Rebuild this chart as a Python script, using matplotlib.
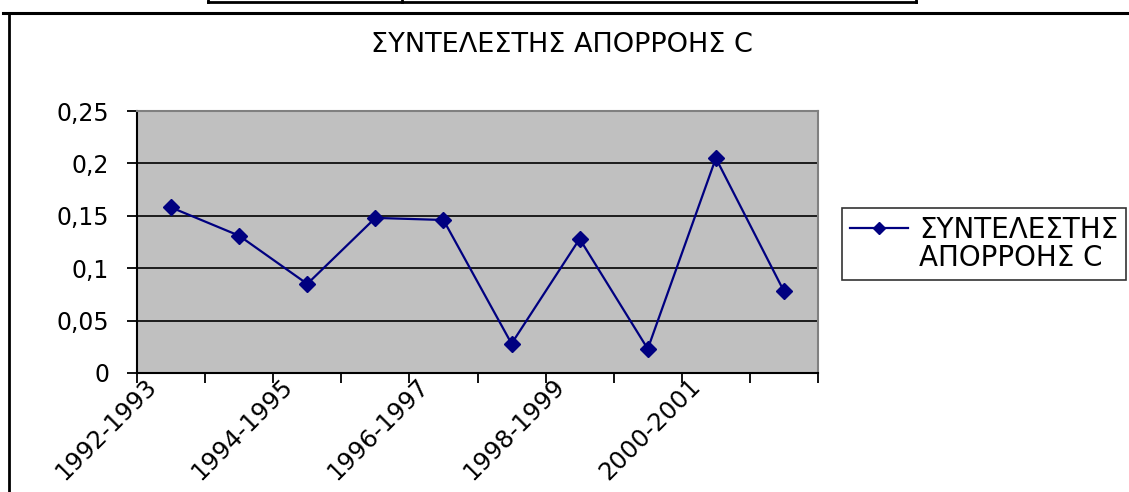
# %%
import matplotlib
matplotlib.use('Agg')
import matplotlib.pyplot as plt
from matplotlib.lines import Line2D
from matplotlib.ticker import FuncFormatter
import numpy as np

# runoff coefficient C per hydrological year
years = ['1992-1993', '1993-1994', '1994-1995', '1995-1996', '1996-1997',
         '1997-1998', '1998-1999', '1999-2000', '2000-2001', '2001-2002']
runoff_c = [0.158, 0.131, 0.085, 0.148, 0.146, 0.028, 0.128, 0.023, 0.205, 0.078]
series_name = 'ΣΥΝΤΕΛΕΣΤΗΣ ΑΠΟΡΡΟΗΣ C'
y_ticks = [0, 0.05, 0.1, 0.15, 0.2, 0.25]

W, H = 1129, 492
fig = plt.figure(figsize=(W / 100, H / 100), dpi=100)
plt.rcParams['font.family'] = ['DejaVu Sans']

def fx(px):
    return px / W

def fy(py):
    return 1 - py / H

ax = fig.add_axes([fx(137), fy(373), fx(818) - fx(137), fy(111) - fy(373)])
ax.set_facecolor('#C0C0C0')

x = np.arange(len(runoff_c)) + 0.5
ax.plot(x, runoff_c, color='#000080', linewidth=1.6, marker='D', markersize=8,
        zorder=3)

ax.set_xlim(0, len(runoff_c))
ax.set_ylim(0, 0.25)

# y axis with decimal comma
ax.set_yticks(y_ticks)
ax.yaxis.set_major_formatter(FuncFormatter(lambda v, p: ('%g' % v).replace('.', ',')))
ax.yaxis.grid(True, color='black', linewidth=1.2)
ax.set_axisbelow(True)

# category boundaries as ticks, every other year labelled
ax.set_xticks(np.arange(len(runoff_c) + 1))
ax.set_xticklabels([])
lab_idx = list(range(0, len(years), 2))
ax.set_xticks([i + 0.1 for i in lab_idx], [years[i] for i in lab_idx], minor=True)
ax.tick_params(axis='x', which='minor', length=0, pad=1, labelsize=17.5)
for t in ax.get_xticklabels(minor=True):
    t.set_rotation(45)
    t.set_ha('right')
    t.set_rotation_mode('anchor')
ax.tick_params(axis='both', which='major', direction='out', length=7, width=1.3,
               colors='black', labelsize=17)
ax.tick_params(axis='y', pad=13)

for side in ['top', 'right']:
    ax.spines[side].set_color('#808080')
    ax.spines[side].set_linewidth(1.5)
for side in ['left', 'bottom']:
    ax.spines[side].set_color('black')
    ax.spines[side].set_linewidth(1.5)

fig.text(fx(562), fy(45), series_name, ha='center', va='center', fontsize=19.5)

# legend: handle beside the first line of the series name
first, second = series_name.split(' ', 1)
blank = Line2D([], [], color='none')
leg = fig.legend(handles=[ax.lines[0], blank], labels=[first, second],
                 loc='upper left', bbox_to_anchor=(fx(842), fy(208)),
                 borderaxespad=0, fontsize=20, frameon=True, fancybox=False,
                 handlelength=2.1, handletextpad=0.4, labelspacing=0.0,
                 borderpad=0.28, markerscale=0.75)
leg.get_frame().set_edgecolor('black')
leg.get_frame().set_linewidth(1.2)

# chart outline and the table edge above it
fig.add_artist(Line2D([fx(3), fx(W)], [fy(13), fy(13)], color='black', linewidth=2.2))
fig.add_artist(Line2D([fx(9), fx(9)], [fy(13), fy(H)], color='black', linewidth=2))
fig.add_artist(Line2D([fx(208), fx(916)], [fy(2), fy(2)], color='black', linewidth=2))
for px in [208, 402, 916]:
    fig.add_artist(Line2D([fx(px), fx(px)], [fy(-2), fy(2)], color='black', linewidth=2))

plt.savefig('out.png', dpi=100)
